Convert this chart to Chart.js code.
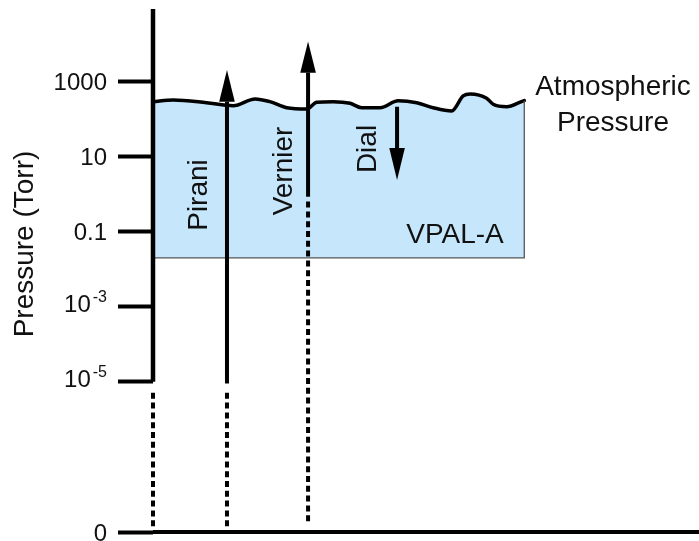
<!DOCTYPE html>
<html>
<head>
<meta charset="utf-8">
<script src="https://cdn.jsdelivr.net/npm/chart.js@4.4.1/dist/chart.umd.min.js"></script>
<style>
  html, body { margin: 0; padding: 0; background: #fff; }
  canvas { display: block; }
</style>
</head>
<body>
<canvas id="c" width="699" height="541"></canvas>
<script>
// Pressure axis ticks in Torr; the lowest one is the zero floor of the broken axis
const TICK_TORR = [1000, 10, 0.1, 1e-3, 1e-5, 1e-9];
const TICK_BASE = ['1000', '10', '0.1', '10', '10', '0'];
const TICK_EXP  = ['', '', '', '-3', '-5', ''];
const AXIS_TOP = 8.5e4;
const AXIS_SOLID_END = 1e-5;
const AXIS_FLOOR = 1e-9;

// Atmospheric pressure line (position along the horizontal axis, pressure in Torr)
const ATM_POS  = [0, 3.7, 9.8, 14.7, 18.7, 21.4, 24.5, 28.2, 30.0, 33.0, 36.1, 38.2,
                  41.6, 44.9, 48.3, 51.3, 54.7, 56.8, 58.1, 61.1, 62.3, 64.8, 67.5, 68.0];
const ATM_TORR = [290, 321, 272, 226, 342, 290, 200, 185, 279, 290, 262, 200,
                  200, 308, 272, 200, 164, 411, 465, 357, 247, 213, 290, 308];

// VPAL-A working range: from atmosphere down to this pressure
const VPAL_LOW = 0.02;
const VPAL_RIGHT = 68.0;

// Gauges: shaft start, arrowhead base and arrow tip (Torr)
const GAUGE_NAMES = ['Pirani', 'Vernier', 'Dial'];
const GAUGE_POS   = [13.55, 28.4, 44.7];
const GAUGE_FROM  = [9e-6, 0.85, 213];
const GAUGE_HEAD  = [289, 1715, 16.9];
const GAUGE_TIP   = [2020, 11500, 2.37];

// Dotted extensions down to the zero floor (axis, Pirani, Vernier)
const EXT_POS    = [0, 13.55, 28.4];
const EXT_TOP    = [5.1e-6, 5.1e-6, 0.63];
const EXT_BOTTOM = [1.37e-9, 1.37e-9, 1.84e-9];

const FONT = "'Liberation Sans', Arial, Helvetica, sans-serif";
const INK = '#111';

function seg(x0, y0, x1, y1) { return [{x: x0, y: y0}, {x: x1, y: y1}]; }
function lineSet(data, extra) {
  return Object.assign({
    data, showLine: true, borderColor: '#000', borderWidth: 4,
    pointRadius: 0, fill: false, clip: false, borderCapStyle: 'butt'
  }, extra || {});
}

const datasets = [];

// Blue VPAL-A band topped by the atmospheric line
datasets.push(lineSet(ATM_POS.map((x, i) => ({x, y: ATM_TORR[i]})), {
  borderWidth: 3.5, cubicInterpolationMode: 'monotone',
  fill: {value: VPAL_LOW}, backgroundColor: '#c6e7fb', order: 9,
  borderCapStyle: 'round', borderJoinStyle: 'round'
}));
// band outline (bottom and right edges)
datasets.push(lineSet([{x: 0, y: VPAL_LOW}, {x: VPAL_RIGHT, y: VPAL_LOW}, {x: VPAL_RIGHT, y: ATM_TORR[ATM_TORR.length - 1]}], {
  borderColor: '#555', borderWidth: 1.3, order: 8
}));

// Vertical pressure axis and horizontal base line
datasets.push(lineSet(seg(0, AXIS_TOP, 0, AXIS_SOLID_END), {borderWidth: 4.5, order: 2}));
datasets.push(lineSet(seg(0, AXIS_FLOOR, 100, AXIS_FLOOR), {borderWidth: 4, order: 2}));

// Dotted extensions
EXT_POS.forEach((p, i) => {
  datasets.push(lineSet(seg(p, EXT_TOP[i], p, EXT_BOTTOM[i]), {
    borderWidth: 4, borderDash: [6, 3.8], order: 3
  }));
});

// Gauge shafts
GAUGE_POS.forEach((p, i) => {
  datasets.push(lineSet(seg(p, GAUGE_FROM[i], p, GAUGE_HEAD[i]), {borderWidth: 4, order: 1}));
});

const arrowHeads = {
  id: 'arrowHeads',
  afterDatasetsDraw(chart) {
    const {ctx, scales: {x, y}} = chart;
    ctx.save();
    ctx.fillStyle = '#000';
    GAUGE_POS.forEach((p, i) => {
      const px = x.getPixelForValue(p);
      const tip = y.getPixelForValue(GAUGE_TIP[i]);
      const base = y.getPixelForValue(GAUGE_HEAD[i]);
      ctx.beginPath();
      ctx.moveTo(px, tip);
      ctx.lineTo(px - 7.8, base);
      ctx.lineTo(px + 7.8, base);
      ctx.closePath();
      ctx.fill();
    });
    ctx.restore();
  }
};

// Text centred on the cap height at (cx, cy), optionally turned to read upwards
function capText(ctx, text, cx, cy, size, upright) {
  ctx.save();
  ctx.translate(cx, cy);
  if (!upright) ctx.rotate(-Math.PI / 2);
  ctx.font = size + 'px ' + FONT;
  ctx.fillStyle = INK;
  ctx.textAlign = 'center';
  ctx.textBaseline = 'alphabetic';
  ctx.fillText(text, 0, size * 0.358);
  ctx.restore();
}

const labels = {
  id: 'labels',
  afterDraw(chart) {
    const {ctx, scales: {y}, chartArea: ca} = chart;
    ctx.save();
    ctx.fillStyle = INK;
    ctx.textBaseline = 'alphabetic';
    ctx.textAlign = 'right';
    const right = y.right - 46;
    TICK_TORR.forEach((v, i) => {
      const py = y.getPixelForValue(v);
      if (TICK_EXP[i]) {
        ctx.font = '16px ' + FONT;
        ctx.fillText(TICK_EXP[i], right, py - 5);
        const w = ctx.measureText(TICK_EXP[i]).width;
        ctx.font = '24px ' + FONT;
        ctx.fillText(TICK_BASE[i], right - w - 2, py + 5.6);
      } else {
        ctx.font = '24px ' + FONT;
        ctx.fillText(TICK_BASE[i], right, py + 8.6);
      }
    });
    ctx.restore();

    capText(ctx, 'Pressure (Torr)', 22.5, 244, 28, false);
    capText(ctx, 'Pirani', ca.left + 44, 195, 28, false);
    capText(ctx, 'Vernier', ca.left + 129, 171, 28, false);
    capText(ctx, 'Dial', ca.left + 213, 149, 28, false);
    capText(ctx, 'VPAL-A', ca.left + 302, 233, 28, true);
    capText(ctx, 'Atmospheric', ca.left + 460, 85, 28, true);
    capText(ctx, 'Pressure', ca.left + 460, 121, 28, true);
  }
};

new Chart(document.getElementById('c'), {
  type: 'scatter',
  data: {datasets},
  options: {
    responsive: false,
    animation: false,
    devicePixelRatio: 1,
    layout: {padding: {top: 9, bottom: 9, left: 0, right: 0}},
    plugins: {legend: {display: false}, tooltip: {enabled: false}},
    scales: {
      x: {type: 'linear', min: 0, max: 100, display: false},
      y: {
        type: 'logarithmic',
        position: 'left',
        min: AXIS_FLOOR,
        max: AXIS_TOP,
        afterBuildTicks(scale) { scale.ticks = TICK_TORR.map(v => ({value: v})); },
        afterFit(scale) { scale.width = 153; },
        ticks: {display: false},
        border: {display: false},
        grid: {
          drawOnChartArea: false, drawTicks: true,
          tickLength: 35, tickWidth: 4, tickColor: '#000'
        }
      }
    }
  },
  plugins: [arrowHeads, labels]
});
</script>
</body>
</html>
